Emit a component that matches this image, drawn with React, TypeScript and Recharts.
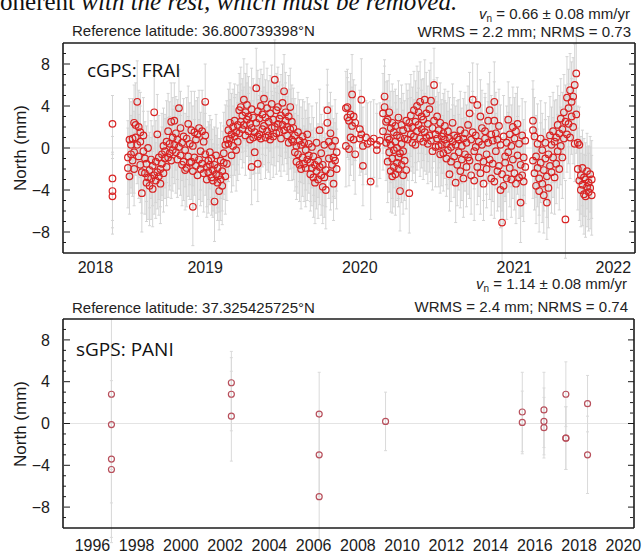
import {
  ErrorBar,
  ReferenceLine,
  Scatter,
  ScatterChart,
  XAxis,
  YAxis,
} from "recharts";

// [decimal year, north (mm), sigma (mm)]
type Obs = [number, number, number];

const northTicks = [-8, -4, 0, 4, 8];
const northMinor = [-9, -7, -6, -5, -3, -2, -1, 1, 2, 3, 5, 6, 7, 9];

// cGPS FRAI
const fraiYears = [2019, 2020, 2021, 2022];
const fraiLabelAt = [2018.79, 2019.5, 2020.5, 2021.5, 2022.14];

const frai2018: Obs[] = [
  [2018.9, 2.3, 2.7], [2018.9, -2.9, 4.0], [2018.9, -4.1, 3.5], [2018.9, -4.6, 3.6],
];

const frai2019: Obs[] = [
  [2019.00, -1.9, 3.8], [2019.00, -0.9, 3.5], [2019.01, 0.8, 3.9], [2019.01, -2.7, 3.6],
  [2019.02, -0.6, 3.7], [2019.02, 0.3, 4.1], [2019.03, -1.2, 3.4], [2019.03, 0.9, 3.8],
  [2019.04, 2.4, 3.6], [2019.04, -0.4, 3.9], [2019.04, -2.0, 3.5], [2019.05, 2.2, 4.0],
  [2019.05, 1.0, 3.6], [2019.06, 0.3, 3.7], [2019.06, 4.4, 3.9], [2019.07, 2.0, 3.5],
  [2019.07, -0.8, 4.0], [2019.08, 1.5, 3.8], [2019.08, -1.6, 3.6], [2019.08, 0.6, 3.4],
  [2019.09, -4.3, 3.7], [2019.09, -2.3, 3.9], [2019.10, 1.2, 3.6], [2019.10, -0.3, 3.8],
  [2019.11, -1.0, 3.5], [2019.11, -2.4, 3.9], [2019.12, -3.3, 3.7], [2019.12, -1.5, 3.6],
  [2019.13, -2.8, 4.0], [2019.13, 0.0, 3.5], [2019.14, -3.6, 3.8], [2019.14, -2.1, 3.6],
  [2019.15, -1.1, 3.7], [2019.15, -2.9, 3.9], [2019.16, -3.9, 3.6], [2019.16, -1.7, 3.8],
  [2019.17, 3.4, 3.5], [2019.17, -2.6, 3.7], [2019.18, -1.3, 3.9], [2019.18, -3.1, 3.6],
  [2019.19, 1.3, 3.8], [2019.19, -2.3, 3.5], [2019.20, -2.7, 3.7], [2019.20, -0.9, 4.0],
  [2019.21, -2.0, 3.6], [2019.21, -3.4, 3.8], [2019.22, -1.5, 3.5], [2019.22, -0.6, 3.9],
  [2019.23, -2.4, 3.7], [2019.23, 0.2, 3.6], [2019.24, -1.0, 3.8], [2019.24, -0.3, 3.5],
  [2019.25, 0.6, 3.9], [2019.25, -1.8, 3.7], [2019.26, 1.6, 3.6], [2019.26, -0.9, 3.8],
  [2019.27, -0.5, 3.5], [2019.27, 0.4, 4.0], [2019.28, 2.5, 3.7], [2019.28, -1.2, 3.6],
  [2019.29, 1.0, 3.8], [2019.29, -0.2, 3.9], [2019.30, 2.6, 3.6], [2019.30, 0.3, 3.7],
  [2019.31, -0.4, 3.9], [2019.31, 1.4, 3.5], [2019.32, 0.8, 3.8], [2019.32, -1.1, 3.6],
  [2019.33, 3.8, 3.7], [2019.33, 0.1, 4.0], [2019.34, 1.9, 3.5], [2019.34, -0.7, 3.8],
  [2019.35, 0.5, 3.6], [2019.35, -1.6, 3.9], [2019.36, -1.3, 3.7], [2019.36, 1.1, 3.6],
  [2019.37, -2.1, 3.8], [2019.37, -0.2, 3.5], [2019.38, 0.9, 3.9], [2019.38, -1.9, 3.7],
  [2019.39, 2.3, 3.6], [2019.39, -0.8, 3.8], [2019.40, -1.4, 3.5], [2019.40, 0.4, 3.9],
  [2019.41, 1.7, 3.7], [2019.41, -1.3, 3.6], [2019.42, 0.2, 3.8], [2019.42, -5.6, 3.7],
  [2019.42, -2.2, 3.5], [2019.43, 1.5, 3.9], [2019.43, -0.9, 3.6], [2019.44, -1.7, 3.8],
  [2019.44, 0.8, 3.7], [2019.45, 1.3, 3.5], [2019.45, -2.6, 3.9], [2019.46, 1.9, 3.6],
  [2019.46, -1.1, 3.8], [2019.47, -0.3, 3.7], [2019.47, -2.0, 3.5], [2019.48, 1.6, 3.9],
  [2019.48, -1.5, 3.6], [2019.49, 0.6, 3.8], [2019.49, -2.4, 3.7], [2019.50, 4.4, 3.6],
  [2019.50, -0.6, 3.9], [2019.50, 1.2, 3.5], [2019.51, -1.8, 3.8], [2019.51, -3.0, 3.6],
  [2019.52, -1.2, 3.7], [2019.52, -2.3, 3.9], [2019.53, -0.4, 3.5], [2019.53, -1.6, 3.8],
  [2019.54, -2.8, 3.6], [2019.54, -1.0, 3.7], [2019.55, -2.1, 3.9], [2019.55, -3.1, 3.5],
  [2019.56, -5.1, 3.8], [2019.56, -1.6, 3.6], [2019.57, -2.5, 3.7], [2019.57, -0.7, 3.9],
  [2019.58, -3.3, 3.6], [2019.58, -1.9, 3.8], [2019.59, -2.6, 3.5], [2019.59, -4.1, 3.7],
  [2019.60, -3.0, 3.9], [2019.60, -1.2, 3.6], [2019.61, -2.2, 3.8], [2019.61, -3.6, 3.7],
  [2019.62, -1.4, 3.5], [2019.62, -0.5, 3.9], [2019.63, -2.7, 3.6], [2019.63, 0.3, 3.8],
  [2019.64, 0.8, 3.7], [2019.64, -1.5, 3.5], [2019.65, 1.7, 3.9], [2019.65, 0.4, 3.6],
  [2019.66, 2.4, 3.8], [2019.66, 0.9, 3.7], [2019.67, -0.7, 3.5], [2019.67, 1.3, 3.9],
  [2019.68, 2.0, 3.6], [2019.68, 0.2, 3.8], [2019.69, 1.1, 3.7], [2019.69, 2.6, 3.5],
  [2019.70, -0.2, 3.9], [2019.70, 1.5, 3.6], [2019.71, 2.2, 3.8], [2019.71, 0.6, 3.7],
  [2019.72, 3.6, 3.5], [2019.72, 1.4, 3.9], [2019.73, 2.5, 3.6], [2019.73, 3.9, 3.8],
  [2019.74, 1.8, 3.7], [2019.74, 3.1, 3.5], [2019.75, 4.6, 3.9], [2019.75, 2.2, 3.6],
  [2019.76, 1.2, 3.8], [2019.76, 3.4, 3.7], [2019.77, 2.7, 3.5], [2019.77, 4.1, 3.9],
  [2019.78, 1.6, 3.6], [2019.78, 3.0, 3.8], [2019.79, 0.8, 3.7], [2019.79, 2.3, 3.5],
  [2019.80, 3.7, 3.9], [2019.80, -1.8, 3.6], [2019.80, 1.9, 3.8], [2019.81, 2.9, 3.7],
  [2019.81, 1.0, 3.5], [2019.82, 1.5, 3.9], [2019.82, -0.4, 3.6], [2019.83, 5.7, 3.8],
  [2019.83, 2.4, 3.7], [2019.84, 1.1, 3.5], [2019.84, 3.5, 3.9], [2019.84, -1.5, 3.6],
  [2019.85, 2.8, 3.8], [2019.85, 1.3, 3.7], [2019.86, 4.0, 3.5], [2019.86, 0.9, 3.9],
  [2019.87, 1.8, 3.6], [2019.87, 3.2, 3.8], [2019.88, 2.1, 3.7], [2019.88, 4.7, 3.5],
  [2019.89, 1.0, 3.9], [2019.89, 2.9, 3.6], [2019.90, 3.8, 3.8], [2019.90, 1.6, 3.7],
  [2019.91, 1.2, 3.5], [2019.91, 2.5, 3.9], [2019.92, 3.3, 3.6], [2019.92, 0.8, 3.8],
  [2019.93, 4.2, 3.7], [2019.93, 1.9, 3.5], [2019.94, 1.1, 3.9], [2019.94, 2.7, 3.6],
  [2019.95, 6.5, 3.8], [2019.95, 2.0, 3.7], [2019.96, 3.6, 3.5], [2019.96, 1.4, 3.9],
  [2019.97, 2.3, 3.6], [2019.97, 3.9, 3.8], [2019.98, 1.5, 3.7], [2019.98, 2.8, 3.5],
  [2019.99, 3.1, 3.9], [2019.99, 0.9, 3.6],
];

const frai2020: Obs[] = [
  [2020.00, 2.2, 3.8], [2020.00, 4.3, 3.7], [2020.01, 5.4, 3.5], [2020.01, 1.7, 3.9],
  [2020.02, 2.6, 3.6], [2020.02, 3.4, 3.8], [2020.03, 1.2, 3.7], [2020.03, 2.0, 3.5],
  [2020.04, 3.0, 3.9], [2020.04, 0.5, 3.6], [2020.05, 1.8, 3.8], [2020.05, 3.9, 3.7],
  [2020.06, 2.5, 3.5], [2020.06, 0.8, 3.9], [2020.07, 0.6, 3.6], [2020.07, 1.9, 3.8],
  [2020.08, -0.4, 3.7], [2020.08, 1.2, 3.5], [2020.09, 0.2, 3.9], [2020.09, -1.3, 3.6],
  [2020.10, 1.5, 3.8], [2020.10, -0.6, 3.7], [2020.11, -1.6, 3.5], [2020.11, 0.7, 3.9],
  [2020.12, 0.3, 3.6], [2020.12, -2.0, 3.8], [2020.13, -0.9, 3.7], [2020.13, 1.1, 3.5],
  [2020.14, 0.5, 3.9], [2020.14, -1.5, 3.6], [2020.15, -0.2, 3.8], [2020.15, -1.9, 3.7],
  [2020.16, 1.3, 3.5], [2020.16, -1.1, 3.9], [2020.17, -0.7, 3.6], [2020.17, 0.4, 3.8],
  [2020.18, -1.4, 3.7], [2020.18, -2.5, 3.5], [2020.19, 0.1, 3.9], [2020.19, -1.9, 3.6],
  [2020.20, -2.8, 3.8], [2020.20, -0.8, 3.7], [2020.21, -1.6, 3.5], [2020.21, -3.3, 3.9],
  [2020.22, -2.2, 3.6], [2020.22, 0.5, 3.8], [2020.23, -3.0, 3.7], [2020.23, -1.2, 3.5],
  [2020.24, 1.7, 3.9], [2020.24, -1.8, 3.6], [2020.25, -2.6, 3.8], [2020.25, -0.5, 3.7],
  [2020.26, -3.7, 3.5], [2020.26, -1.6, 3.9], [2020.27, 0.3, 3.6], [2020.27, -2.8, 3.8],
  [2020.28, -4.0, 3.7], [2020.28, -2.1, 3.5], [2020.29, 3.6, 3.9], [2020.29, 2.4, 3.6],
  [2020.30, -1.0, 3.8], [2020.30, 0.6, 3.7], [2020.31, -2.4, 3.5], [2020.31, 1.4, 3.9],
  [2020.32, -1.6, 3.6], [2020.32, 0.2, 3.8], [2020.33, -0.9, 3.7], [2020.33, -3.4, 3.5],
  [2020.34, 0.7, 3.9], [2020.34, -1.2, 3.6], [2020.35, -2.0, 3.8], [2020.35, -0.4, 3.7],
  [2020.41, 3.8, 3.5], [2020.41, 0.2, 3.9], [2020.42, 3.9, 3.6], [2020.42, 2.9, 3.8],
  [2020.43, 2.6, 3.7], [2020.43, -0.1, 3.5], [2020.44, 3.2, 3.9], [2020.44, 1.0, 3.6],
  [2020.45, 5.1, 3.8], [2020.45, 2.1, 3.7], [2020.46, 3.0, 3.5], [2020.46, 0.8, 3.9],
  [2020.47, 2.4, 3.6], [2020.47, -0.6, 3.8], [2020.50, 1.8, 3.7], [2020.50, 0.9, 3.5],
  [2020.51, 4.6, 3.9], [2020.51, 1.3, 3.6], [2020.52, -1.7, 3.8], [2020.52, 0.2, 3.7],
  [2020.54, 1.0, 3.5], [2020.55, 0.4, 3.9], [2020.57, -3.2, 3.6], [2020.57, 0.6, 3.8],
  [2020.59, 0.9, 3.7], [2020.61, -0.2, 3.5], [2020.61, 0.3, 3.9], [2020.63, 0.7, 3.6],
  [2020.65, 3.3, 3.8], [2020.65, 1.6, 3.7], [2020.66, 4.9, 3.5], [2020.66, 3.9, 3.9],
  [2020.67, 0.5, 3.6], [2020.67, 2.5, 3.8], [2020.68, 2.7, 3.7], [2020.68, 1.0, 3.5],
  [2020.68, -1.3, 3.9], [2020.69, 3.4, 3.6], [2020.69, -0.4, 3.8], [2020.69, 0.8, 3.7],
  [2020.70, 1.9, 3.5], [2020.70, -2.2, 3.9], [2020.70, 0.3, 3.6], [2020.71, -1.0, 3.8],
  [2020.71, 2.4, 3.7], [2020.71, -2.7, 3.5], [2020.72, 1.5, 3.9], [2020.72, -0.2, 3.6],
  [2020.72, -1.8, 3.8], [2020.73, 0.6, 3.7], [2020.73, 2.1, 3.5], [2020.73, -2.5, 3.9],
  [2020.74, -1.4, 3.6], [2020.74, 1.2, 3.8], [2020.74, 0.0, 3.7], [2020.75, 2.9, 3.5],
  [2020.75, -0.9, 3.9], [2020.75, -2.0, 3.6], [2020.76, -4.1, 3.8], [2020.76, 1.0, 3.7],
  [2020.76, -0.5, 3.5], [2020.77, 0.4, 3.9], [2020.77, -1.6, 3.6], [2020.77, 2.2, 3.8],
  [2020.78, -2.6, 3.7], [2020.78, 1.7, 3.5], [2020.78, -0.3, 3.9], [2020.79, 0.9, 3.6],
  [2020.79, -1.2, 3.8], [2020.80, -2.1, 3.7], [2020.80, 2.6, 3.5], [2020.81, 0.8, 3.9],
  [2020.81, 1.9, 3.6], [2020.82, -4.3, 3.8], [2020.82, 2.4, 3.7], [2020.83, 1.3, 3.5],
  [2020.83, 3.1, 3.9], [2020.84, 0.5, 3.6], [2020.84, 2.0, 3.8], [2020.85, 3.6, 3.7],
  [2020.85, 1.1, 3.5], [2020.86, 2.5, 3.9], [2020.86, 0.3, 3.6], [2020.87, 4.0, 3.8],
  [2020.87, 1.6, 3.7], [2020.88, 2.2, 3.5], [2020.88, 3.4, 3.9], [2020.89, 0.9, 3.6],
  [2020.89, 4.4, 3.8], [2020.90, 1.8, 3.7], [2020.90, 3.0, 3.5], [2020.91, 2.7, 3.9],
  [2020.91, 0.6, 3.6], [2020.92, 4.6, 3.8], [2020.92, 1.5, 3.7], [2020.93, 1.0, 3.5],
  [2020.93, 3.3, 3.9], [2020.94, 2.3, 3.6], [2020.94, 0.4, 3.8], [2020.95, 3.7, 3.7],
  [2020.95, 1.2, 3.5], [2020.96, 0.7, 3.9], [2020.96, 4.5, 3.6], [2020.97, 1.9, 3.8],
  [2020.97, -0.3, 3.7], [2020.98, 6.0, 3.5], [2020.98, 2.6, 3.9], [2020.99, 1.3, 3.6],
  [2020.99, 0.1, 3.8],
];

const frai2021: Obs[] = [
  [2021.00, 3.0, 3.7], [2021.00, 0.9, 3.5], [2021.01, 0.2, 3.9], [2021.01, 1.7, 3.6],
  [2021.02, 2.4, 3.8], [2021.02, -0.6, 3.7], [2021.03, 1.1, 3.5], [2021.03, 0.3, 3.9],
  [2021.04, -0.5, 3.6], [2021.04, 1.4, 3.8], [2021.05, 0.8, 3.7], [2021.05, 2.1, 3.5],
  [2021.06, 0.4, 3.9], [2021.06, -1.0, 3.6], [2021.07, 1.6, 3.8], [2021.07, -0.2, 3.7],
  [2021.08, -2.5, 3.5], [2021.08, 0.9, 3.9], [2021.09, 0.1, 3.6], [2021.09, -1.3, 3.8],
  [2021.10, 2.4, 3.7], [2021.10, 0.6, 3.5], [2021.11, -0.8, 3.9], [2021.11, 1.2, 3.6],
  [2021.12, -3.3, 3.8], [2021.12, 0.3, 3.7], [2021.13, 1.0, 3.5], [2021.13, -1.6, 3.9],
  [2021.14, -0.4, 3.6], [2021.14, 0.8, 3.8], [2021.15, 1.7, 3.7], [2021.15, -2.2, 3.5],
  [2021.16, -1.1, 3.9], [2021.16, 0.2, 3.6], [2021.17, 0.9, 3.8], [2021.17, -2.9, 3.7],
  [2021.18, -0.6, 3.5], [2021.18, 1.4, 3.9], [2021.19, 0.5, 3.6], [2021.19, -1.8, 3.8],
  [2021.20, 2.2, 3.7], [2021.20, -0.9, 3.5], [2021.21, 3.3, 3.9], [2021.21, -1.2, 3.6],
  [2021.22, 0.8, 3.8], [2021.22, -2.6, 3.7], [2021.23, 4.6, 3.5], [2021.23, 1.5, 3.9],
  [2021.24, -0.3, 3.6], [2021.24, -3.1, 3.8], [2021.25, 1.2, 3.7], [2021.25, 0.1, 3.5],
  [2021.26, 4.1, 3.9], [2021.26, -1.8, 3.6], [2021.27, 0.6, 3.8], [2021.27, -0.9, 3.7],
  [2021.28, 3.0, 3.5], [2021.28, -2.4, 3.9], [2021.29, 1.9, 3.6], [2021.29, 0.3, 3.8],
  [2021.30, -1.3, 3.7], [2021.30, -3.4, 3.5], [2021.31, 0.9, 3.9], [2021.31, 1.6, 3.6],
  [2021.32, -0.6, 3.8], [2021.32, -2.0, 3.7], [2021.33, 2.6, 3.5], [2021.33, 0.5, 3.9],
  [2021.34, 3.6, 3.6], [2021.34, -1.1, 3.8], [2021.35, 1.3, 3.7], [2021.35, -2.9, 3.5],
  [2021.36, 0.7, 3.9], [2021.36, -1.5, 3.6], [2021.37, 4.4, 3.8], [2021.37, 2.6, 3.7],
  [2021.37, -3.2, 3.5], [2021.38, 1.4, 3.9], [2021.38, -0.3, 3.6], [2021.39, -2.2, 3.8],
  [2021.39, 0.8, 3.7], [2021.40, 2.1, 3.5], [2021.40, -1.7, 3.9], [2021.41, -4.0, 3.6],
  [2021.41, 0.3, 3.8], [2021.42, -7.1, 3.7], [2021.42, -2.5, 3.5], [2021.43, 1.1, 3.9],
  [2021.43, -3.6, 3.6], [2021.44, -0.8, 3.8], [2021.44, -1.4, 3.7], [2021.45, 0.5, 3.5],
  [2021.45, -2.9, 3.9], [2021.46, 2.7, 3.6], [2021.46, -0.4, 3.8], [2021.47, -1.9, 3.7],
  [2021.47, 1.3, 3.5], [2021.48, 0.2, 3.9], [2021.48, -3.0, 3.6], [2021.49, 2.0, 3.8],
  [2021.49, -1.1, 3.7], [2021.50, -2.4, 3.5], [2021.50, 0.9, 3.9], [2021.51, 1.6, 3.6],
  [2021.51, -3.4, 3.8], [2021.52, -0.7, 3.7], [2021.52, 2.3, 3.5], [2021.53, -2.8, 3.9],
  [2021.53, 0.4, 3.6], [2021.54, -5.2, 3.8], [2021.54, -1.6, 3.7], [2021.55, 1.2, 3.5],
  [2021.55, -2.6, 3.9], [2021.56, -0.9, 3.6], [2021.56, -3.2, 3.8], [2021.57, 0.7, 3.7],
  [2021.57, -1.8, 3.5], [2021.62, 1.7, 3.9], [2021.62, -1.2, 3.6], [2021.62, 2.6, 3.8],
  [2021.63, 1.1, 3.7], [2021.63, -2.4, 3.5], [2021.64, -0.8, 3.9], [2021.64, -3.6, 3.6],
  [2021.65, 0.4, 3.8], [2021.65, -1.9, 3.7], [2021.66, -2.9, 3.5], [2021.66, -4.1, 3.9],
  [2021.67, 0.9, 3.6], [2021.67, -1.4, 3.8], [2021.68, -3.4, 3.7], [2021.68, -0.2, 3.5],
  [2021.69, -2.1, 3.9], [2021.69, -4.5, 3.6], [2021.70, 0.5, 3.8], [2021.70, -1.0, 3.7],
  [2021.71, -5.2, 3.5], [2021.71, -2.7, 3.9], [2021.72, -0.6, 3.6], [2021.72, -3.8, 3.8],
  [2021.73, 1.2, 3.7], [2021.73, -1.7, 3.5], [2021.74, -2.3, 3.9], [2021.74, 0.3, 3.6],
  [2021.75, -0.9, 3.8], [2021.75, 1.6, 3.7], [2021.76, -2.8, 3.5], [2021.76, 0.6, 3.9],
  [2021.77, 1.0, 3.6], [2021.77, -1.5, 3.8], [2021.78, 2.2, 3.7], [2021.78, -0.3, 3.5],
  [2021.79, -2.0, 3.9], [2021.79, 1.4, 3.6], [2021.80, 2.8, 3.8], [2021.80, 0.2, 3.7],
  [2021.81, 1.8, 3.5], [2021.81, -0.9, 3.9], [2021.82, 3.4, 3.6], [2021.82, 0.9, 3.8],
  [2021.83, -6.8, 3.7], [2021.83, 2.5, 3.5], [2021.84, 4.8, 3.9], [2021.84, 1.3, 3.6],
  [2021.85, 2.3, 3.8], [2021.85, 3.8, 3.7], [2021.86, 5.5, 3.5], [2021.86, 1.0, 3.9],
  [2021.87, 3.0, 3.6], [2021.87, 4.4, 3.8], [2021.88, 4.9, 3.7], [2021.88, 2.0, 3.5],
  [2021.89, 6.0, 3.9], [2021.89, 0.4, 3.6], [2021.90, 7.1, 3.8], [2021.90, 3.2, 3.7],
  [2021.91, 0.5, 3.5], [2021.91, -2.0, 3.9], [2021.92, 0.3, 3.6], [2021.92, -3.1, 3.8],
  [2021.93, -2.6, 3.7], [2021.93, -4.0, 3.5], [2021.94, -3.5, 3.9], [2021.94, -1.9, 3.6],
  [2021.95, -4.4, 3.8], [2021.95, -2.8, 3.7], [2021.96, -3.0, 3.5], [2021.96, -4.6, 3.9],
  [2021.97, -2.2, 3.6], [2021.97, -3.7, 3.8], [2021.98, -4.2, 3.7], [2021.98, -3.3, 3.5],
  [2021.99, -3.8, 3.9], [2021.99, -2.5, 3.6], [2022.00, -4.5, 3.8], [2022.00, -3.0, 3.7],
];

// sGPS PANI (campaign occupations)
const paniYears = [1996, 1998, 2000, 2002, 2004, 2006, 2008, 2010, 2012, 2014, 2016, 2018, 2020];
const paniMinorYears = [1997, 1999, 2001, 2003, 2005, 2007, 2009, 2011, 2013, 2015, 2017, 2019];
const paniLabelAt = [1996.5, 1998.5, 2000.5, 2002.5, 2004.5, 2006.5, 2008.5, 2010.5, 2012.5, 2014.5, 2016.5, 2018.5, 2020.5];

const paniObs: Obs[] = [
  [1997.36, 2.8, 7.2], [1997.36, -0.1, 7.5], [1997.36, -3.4, 7.5], [1997.36, -4.4, 7.0],
  [2002.78, 3.9, 3.0], [2002.78, 2.8, 3.5], [2002.78, 0.7, 4.3],
  [2006.75, 0.9, 4.0], [2006.75, -3.0, 4.0], [2006.75, -7.0, 4.2],
  [2009.75, 0.2, 2.8],
  [2015.93, 1.1, 3.8], [2015.93, 0.1, 3.0],
  [2016.91, 1.3, 3.6], [2016.91, 0.2, 3.2], [2016.91, -0.4, 2.9],
  [2017.90, 2.8, 3.1], [2017.90, -1.4, 3.0], [2017.90, -1.4, 3.0],
  [2018.88, 1.9, 2.7], [2018.88, -3.0, 3.7],
];

const INK = "#1b1b1b";
const SANS = "'Liberation Sans', Arial, sans-serif";
const frameLine = { stroke: INK, strokeWidth: 1.6 };
const tickStroke = { stroke: INK, strokeWidth: 1 };
const blank = () => "";
const northLabel = (v: number) => (v < 0 ? `\u2212${-v}` : `${v}`);
const yearLabel = (v: number) => String(Math.floor(v));

type PanelProps = {
  obs: Obs[];
  domain: [number, number];
  majorX: number[];
  minorX: number[];
  labelAt: number[];
  height: number;
  margin: { top: number; right: number; bottom: number; left: number };
  labelGap: number;
  color: string;
  radius: number;
  barColor: string;
};

function Panel(p: PanelProps) {
  const points = p.obs.map(([t, n, s]) => ({ t, n, s }));
  const xc = { type: "number" as const, domain: p.domain, allowDataOverflow: true, interval: 0 as const };
  const yc = { type: "number" as const, domain: [-10, 10], allowDataOverflow: true, interval: 0 as const };
  return (
    <ScatterChart width={643} height={p.height} margin={p.margin}>
      {/* labelled axes carry the data; mirrored copies add the inward ticks and the rest of the frame */}
      <XAxis xAxisId="t" dataKey="t" {...xc} height={30} ticks={p.labelAt} tickFormatter={yearLabel}
        tickLine={false} axisLine={frameLine} tickSize={0} tickMargin={p.labelGap}
        tick={{ fontSize: 16, fill: INK, fontFamily: SANS }} />
      <XAxis xAxisId="tYear" {...xc} mirror height={1} ticks={p.majorX} tickSize={6}
        tickFormatter={blank} axisLine={false} tickLine={tickStroke} />
      {p.minorX.length > 0 && (
        <XAxis xAxisId="tMinor" {...xc} mirror height={1} ticks={p.minorX} tickSize={3}
          tickFormatter={blank} axisLine={false} tickLine={tickStroke} />
      )}
      <XAxis xAxisId="top" orientation="top" {...xc} mirror height={1} ticks={p.majorX} tickSize={6}
        tickFormatter={blank} axisLine={frameLine} tickLine={tickStroke} />
      {p.minorX.length > 0 && (
        <XAxis xAxisId="topMinor" orientation="top" {...xc} mirror height={1} ticks={p.minorX} tickSize={3}
          tickFormatter={blank} axisLine={false} tickLine={tickStroke} />
      )}

      <YAxis yAxisId="n" dataKey="n" {...yc} width={63} ticks={northTicks} tickFormatter={northLabel}
        tickLine={false} axisLine={frameLine} tickSize={0} tickMargin={13}
        tick={{ fontSize: 16, fill: INK, fontFamily: SANS }} />
      <YAxis yAxisId="nTicks" {...yc} mirror width={1} ticks={northTicks} tickSize={6}
        tickFormatter={blank} axisLine={false} tickLine={tickStroke} />
      <YAxis yAxisId="nMinor" {...yc} mirror width={1} ticks={northMinor} tickSize={3}
        tickFormatter={blank} axisLine={false} tickLine={tickStroke} />
      <YAxis yAxisId="right" orientation="right" {...yc} mirror width={1} ticks={northTicks} tickSize={6}
        tickFormatter={blank} axisLine={frameLine} tickLine={tickStroke} />
      <YAxis yAxisId="rightMinor" orientation="right" {...yc} mirror width={1} ticks={northMinor} tickSize={3}
        tickFormatter={blank} axisLine={false} tickLine={tickStroke} />

      <ReferenceLine xAxisId="t" yAxisId="n" y={0} stroke="#e4e4e4" strokeWidth={1} />
      <Scatter
        xAxisId="t"
        yAxisId="n"
        data={points}
        isAnimationActive={false}
        shape={(s: any) => (
          <circle cx={s.cx} cy={s.cy} r={p.radius} fill="none" stroke={p.color} strokeWidth={1.2} />
        )}
      >
        <ErrorBar dataKey="s" direction="y" width={1.5} stroke={p.barColor} strokeWidth={1} isAnimationActive={false} />
      </Scatter>
    </ScatterChart>
  );
}

export default function App() {
  const hdr = { fontFamily: SANS, fontSize: 15, fill: "#222" };
  return (
    <div style={{ position: "absolute", left: 0, top: 0, width: 643, height: 556, background: "#fff", overflow: "hidden" }}>
      <div style={{ position: "absolute", left: 0, top: 0 }}>
        <Panel
          obs={[...frai2018, ...frai2019, ...frai2020, ...frai2021]}
          domain={[2018.58, 2022.28]}
          majorX={fraiYears}
          minorX={[]}
          labelAt={fraiLabelAt}
          height={290}
          margin={{ top: 43, right: 8, bottom: 7, left: 0 }}
          labelGap={9}
          color="#d92323"
          radius={3.3}
          barColor="#d4d4d4"
        />
      </div>
      <div style={{ position: "absolute", left: 0, top: 290 }}>
        <Panel
          obs={paniObs}
          domain={[1995.17, 2020.98]}
          majorX={paniYears}
          minorX={paniMinorYears}
          labelAt={paniLabelAt}
          height={266}
          margin={{ top: 29, right: 9, bottom: -2, left: 0 }}
          labelGap={12}
          color="#b8505c"
          radius={3}
          barColor="#dadada"
        />
      </div>
      <svg width={643} height={556} style={{ position: "absolute", left: 0, top: 0, pointerEvents: "none" }}>
        <text x={-11} y={10} fontFamily="'Liberation Serif', serif" fontSize={25} fill="#111">
          coherent <tspan fontStyle="italic">with the rest, which must be removed.</tspan>
        </text>

        <text x={630} y={19} textAnchor="end" {...hdr}>
          <tspan fontStyle="italic">v</tspan>
          <tspan fontSize={10} dy={3}>n</tspan>
          <tspan dy={-3}> = 0.66 ± 0.08 mm/yr</tspan>
        </text>
        <text x={72} y={36} {...hdr}>Reference latitude: 36.800739398°N</text>
        <text x={631} y={37} textAnchor="end" {...hdr}>WRMS = 2.2 mm; NRMS = 0.73</text>
        <text x={87} y={77} fontFamily="'Open Sans', sans-serif" fontSize={19} fill="#111">cGPS: FRAI</text>
        <text x={26} y={148} transform="rotate(-90 26 148)" textAnchor="middle" fontFamily={SANS} fontSize={17} fill={INK}>
          North (mm)
        </text>

        <text x={627} y={289} textAnchor="end" {...hdr}>
          <tspan fontStyle="italic">v</tspan>
          <tspan fontSize={10} dy={3}>n</tspan>
          <tspan dy={-3}> = 1.14 ± 0.08 mm/yr</tspan>
        </text>
        <text x={72} y={313} {...hdr}>Reference latitude: 37.325425725°N</text>
        <text x={628} y={312} textAnchor="end" {...hdr}>WRMS = 2.4 mm; NRMS = 0.74</text>
        <text x={76} y={356} fontFamily="'Open Sans', sans-serif" fontSize={19} fill="#111">sGPS: PANI</text>
        <text x={26} y={424} transform="rotate(-90 26 424)" textAnchor="middle" fontFamily={SANS} fontSize={17} fill={INK}>
          North (mm)
        </text>
      </svg>
    </div>
  );
}
